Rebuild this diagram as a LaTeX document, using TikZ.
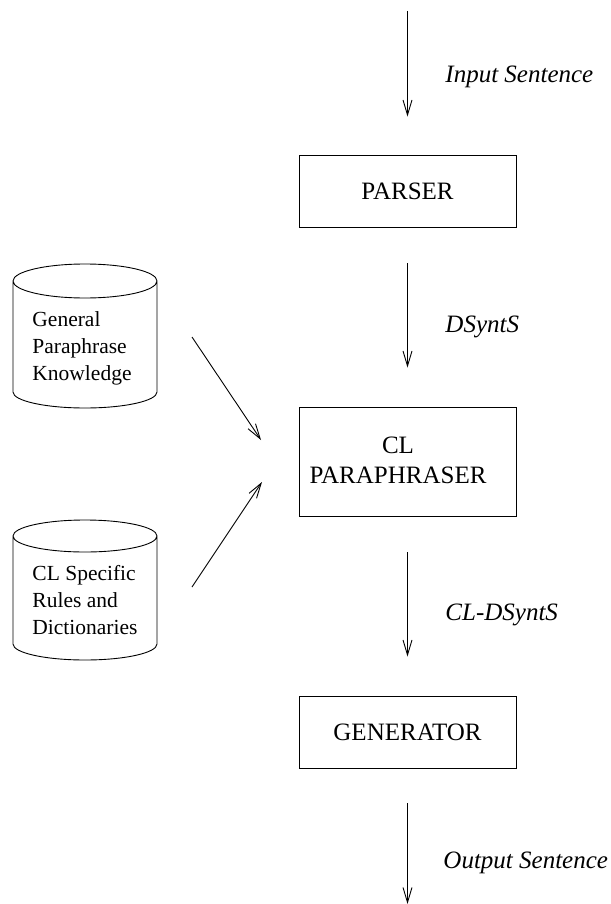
\documentclass[tikz,border=0pt]{standalone}
\usepackage{fontspec}
\setmainfont{Liberation Serif}
\usetikzlibrary{arrows.meta}
\begin{document}
\begin{tikzpicture}[x=1pt,y=-1pt,
  line width=0.9pt,
  flow/.style={-{Straight Barb[length=15pt,width=9pt,line width=0.9pt]}},
  stage/.style={draw, minimum width=217pt, minimum height=72pt, inner sep=0pt,
    font=\fontsize{25}{30}\selectfont},
  flowlabel/.style={anchor=west, inner sep=0pt, font=\fontsize{25}{30}\selectfont\itshape},
  storetext/.style={anchor=west, align=left, inner sep=0pt,
    font=\fontsize{21.5}{27}\selectfont}
]
\useasboundingbox (0,0) rectangle (610,904);

% processing stages
\node[stage] (parser) at (407.5,191) {PARSER};
\node[stage, minimum height=109pt] (para) at (407.5,461.5) {};
\node[align=center, inner sep=0pt, font=\fontsize{25}{30}\selectfont] (paratext) at (398,460) {CL\\PARAPHRASER};
\node[stage] (gen) at (407.5,732) {GENERATOR};

% free ends of the input and output arrows
\coordinate (in) at (407.5,11);
\coordinate (out) at (407.5,904);

% vertical flow
\draw[flow, shorten >=38pt] (in) -- (parser.north);
\draw[flow, shorten <=36pt, shorten >=39pt] (parser.south) -- (para.north);
\draw[flow, shorten <=36pt, shorten >=39pt] (para.south) -- (gen.north);
\draw[flow, shorten <=35pt] (gen.south) -- (out);

% flow labels
\node[flowlabel] (lin) at (445,77) {Input Sentence};
\node[flowlabel] (lds) at (445,327) {DSyntS};
\node[flowlabel] (lcl) at (445,615) {CL-DSyntS};
\node[flowlabel] (lout) at (443,863) {Output Sentence};

% knowledge stores (cylinders); y grows downward, so the lower rim runs 180 -> 0
\draw (13,281) arc[start angle=180, end angle=-180, x radius=72, y radius=17]
      (13,281) -- (13,392) arc[start angle=180, end angle=0, x radius=72, y radius=16]
      -- (157,281);
\node[storetext] (gpk) at (32,348) {General\\Paraphrase\\Knowledge};

\draw (13,536) arc[start angle=180, end angle=-180, x radius=72, y radius=16]
      (13,536) -- (13,644) arc[start angle=180, end angle=0, x radius=72, y radius=16]
      -- (157,536);
\node[storetext] (clr) at (32,600) {CL Specific\\Rules and\\Dictionaries};

% feeds into the paraphraser
\coordinate (g1) at (192,337);
\coordinate (g2) at (261,440);
\coordinate (c1) at (192,587);
\coordinate (c2) at (262,482);
\draw[flow] (g1) -- (g2);
\draw[flow] (c1) -- (c2);
\end{tikzpicture}
\end{document}
